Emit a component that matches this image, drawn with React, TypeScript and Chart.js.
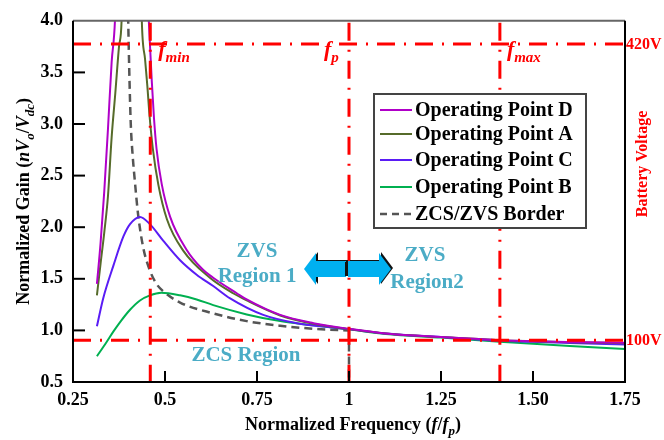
import React, { useEffect, useRef } from "react";
import { Chart, registerables } from "chart.js";
Chart.register(...registerables);

const W = 664;
const H = 440;
const FAMILY = '"Liberation Serif", "Times New Roman", serif';

// ---------- data ----------
const dFreq = [0.315, 0.325, 0.335, 0.345, 0.355, 0.364, 0.405, 0.456, 0.459, 0.464, 0.47, 0.477, 0.491, 0.514, 0.559, 0.6, 0.631, 0.695, 0.722, 0.813, 0.903, 1.0, 1.1, 1.25, 1.41, 1.5, 1.6, 1.75];
const dGain = [1.45, 1.85, 2.35, 2.95, 3.6, 4.0, 9, 4.0, 3.78, 3.42, 3.06, 2.76, 2.42, 2.1, 1.78, 1.6, 1.51, 1.36, 1.3, 1.15, 1.07, 1.015, 0.97, 0.935, 0.905, 0.895, 0.888, 0.88];

const aFreq = [0.315, 0.325, 0.335, 0.345, 0.355, 0.365, 0.375, 0.382, 0.41, 0.437, 0.446, 0.452, 0.458, 0.467, 0.482, 0.505, 0.55, 0.622, 0.685, 0.722, 0.813, 0.903, 1.0, 1.1, 1.25, 1.41, 1.5, 1.6, 1.75];
const aGain = [1.34, 1.65, 1.95, 2.3, 2.87, 3.3, 3.75, 4.0, 9, 4.0, 3.62, 3.37, 3.08, 2.76, 2.41, 2.08, 1.77, 1.51, 1.36, 1.29, 1.145, 1.065, 1.013, 0.97, 0.935, 0.905, 0.895, 0.886, 0.876];

const cFreq = [0.315, 0.332, 0.36, 0.387, 0.405, 0.432, 0.459, 0.495, 0.541, 0.586, 0.631, 0.677, 0.767, 0.858, 0.948, 1.0, 1.1, 1.25, 1.41, 1.5, 1.6, 1.75];
const cGain = [1.04, 1.31, 1.63, 1.91, 2.03, 2.1, 2.03, 1.87, 1.68, 1.54, 1.43, 1.31, 1.15, 1.07, 1.03, 1.01, 0.97, 0.935, 0.9, 0.89, 0.878, 0.864];

const bFreq = [0.315, 0.34, 0.36, 0.38, 0.405, 0.432, 0.459, 0.49, 0.541, 0.586, 0.631, 0.722, 0.813, 0.903, 1.0, 1.1, 1.25, 1.41, 1.5, 1.6, 1.75];
const bGain = [0.75, 0.88, 0.99, 1.09, 1.2, 1.29, 1.34, 1.365, 1.34, 1.3, 1.245, 1.155, 1.09, 1.05, 1.01, 0.965, 0.93, 0.89, 0.87, 0.85, 0.82];

const zFreq = [0.398, 0.4, 0.403, 0.407, 0.412, 0.418, 0.427, 0.441, 0.459, 0.477, 0.495, 0.541, 0.631, 0.722, 0.813, 0.903, 1.0];
const zGain = [4.3, 4.0, 3.5, 3.0, 2.7, 2.45, 2.12, 1.8, 1.58, 1.45, 1.38, 1.27, 1.165, 1.09, 1.045, 1.016, 1.0];
const zDropFreq = [1.0, 1.0];
const zDropGain = [1.0, 0.5];

const seriesNames = ["Operating Point D", "Operating Point A", "Operating Point C", "Operating Point B", "ZCS/ZVS Border"];
const seriesColors = ["#b000c8", "#566b2a", "#5a1cf5", "#00b050", "#555555"];

const xTickLabels = ["0.25", "0.5", "0.75", "1", "1.25", "1.50", "1.75"];
const freqMarkers = [0.46, 1.0, 1.41];
const freqMarkerSubs = ["min", "p", "max"];
const voltLevels = [3.775, 0.905];
const voltLabels = ["420V", "100V"];

const pts = (xs: number[], ys: number[]) => xs.map((x, i) => ({ x, y: ys[i] }));

type Seg = { t: string; it?: boolean; sub?: boolean };

function drawRich(ctx: CanvasRenderingContext2D, segs: Seg[], x: number, y: number, size: number, color: string, align: "center" | "left") {
  const font = (s: Seg) => `${s.it ? "italic " : ""}bold ${s.sub ? Math.round(size * 0.7) : size}px ${FAMILY}`;
  let total = 0;
  for (const s of segs) {
    ctx.font = font(s);
    total += ctx.measureText(s.t).width;
  }
  let cx = align === "center" ? x - total / 2 : x;
  ctx.fillStyle = color;
  ctx.textAlign = "left";
  ctx.textBaseline = "alphabetic";
  for (const s of segs) {
    ctx.font = font(s);
    ctx.fillText(s.t, cx, y + (s.sub ? size * 0.28 : 0));
    cx += ctx.measureText(s.t).width;
  }
}

const overlay = {
  id: "overlay",
  afterDatasetsDraw(chart: any) {
    const ctx: CanvasRenderingContext2D = chart.ctx;
    const { left, right, top, bottom } = chart.chartArea;
    const xs = chart.scales.x;
    const ys = chart.scales.y;
    ctx.save();

    // red dash-dot lines
    ctx.strokeStyle = "#ff0000";
    ctx.lineWidth = 3;
    ctx.setLineDash([18, 9, 2, 9]);
    for (const f of freqMarkers) {
      const px = xs.getPixelForValue(f);
      ctx.beginPath();
      ctx.moveTo(px, top + 2);
      ctx.lineTo(px, bottom);
      ctx.stroke();
    }
    for (const v of voltLevels) {
      const py = ys.getPixelForValue(v);
      ctx.beginPath();
      ctx.moveTo(left, py);
      ctx.lineTo(right, py);
      ctx.stroke();
    }
    ctx.setLineDash([]);

    // frame
    ctx.lineWidth = 2;
    ctx.strokeStyle = "#666666";
    ctx.beginPath();
    ctx.moveTo(left, top);
    ctx.lineTo(right, top);
    ctx.stroke();
    ctx.strokeStyle = "#000000";
    ctx.beginPath();
    ctx.moveTo(right, top);
    ctx.lineTo(right, bottom);
    ctx.lineTo(left, bottom);
    ctx.lineTo(left, top);
    ctx.stroke();

    // inner ticks
    ctx.lineWidth = 2;
    for (const t of ys.ticks) {
      if (t.value <= 0.5 || t.value >= 4) continue;
      const py = ys.getPixelForValue(t.value);
      ctx.beginPath();
      ctx.moveTo(left, py);
      ctx.lineTo(left + 12, py);
      ctx.stroke();
    }
    for (const t of xs.ticks) {
      if (t.value <= 0.25 || t.value >= 1.75) continue;
      const px = xs.getPixelForValue(t.value);
      ctx.beginPath();
      ctx.moveTo(px, bottom);
      ctx.lineTo(px, bottom - 11);
      ctx.stroke();
    }

    // legend
    const lx = 374, ly = 94, lw = 212, lh = 134;
    ctx.fillStyle = "#ffffff";
    ctx.fillRect(lx, ly, lw, lh);
    ctx.strokeStyle = "#444444";
    ctx.lineWidth = 2;
    ctx.strokeRect(lx, ly, lw, lh);
    const rowY = [110, 134, 160, 187, 214];
    seriesNames.forEach((name, i) => {
      ctx.strokeStyle = seriesColors[i];
      ctx.lineWidth = i === 4 ? 2.5 : 2;
      ctx.setLineDash(i === 4 ? [7, 5] : []);
      ctx.beginPath();
      ctx.moveTo(380, rowY[i]);
      ctx.lineTo(412, rowY[i]);
      ctx.stroke();
      ctx.setLineDash([]);
      ctx.fillStyle = "#000000";
      ctx.font = `bold 20px ${FAMILY}`;
      ctx.textAlign = "left";
      ctx.textBaseline = "middle";
      ctx.fillText(name, 415, rowY[i] + 1);
    });

    // f markers labels
    const fy = 56;
    const fpx = freqMarkers.map((f) => xs.getPixelForValue(f));
    drawRich(ctx, [{ t: "f", it: true }, { t: freqMarkerSubs[0], it: true, sub: true }], fpx[0] + 8, fy, 22, "#ff0000", "left");
    drawRich(ctx, [{ t: "f", it: true }, { t: freqMarkerSubs[1], it: true, sub: true }], fpx[1] - 25, fy, 22, "#ff0000", "left");
    drawRich(ctx, [{ t: "f", it: true }, { t: freqMarkerSubs[2], it: true, sub: true }], fpx[2] + 7, fy, 22, "#ff0000", "left");

    // region annotations
    const teal = "#4bacc6";
    ctx.fillStyle = teal;
    ctx.font = `bold 21px ${FAMILY}`;
    ctx.textAlign = "center";
    ctx.textBaseline = "middle";
    ctx.fillText("ZVS", 257, 252);
    ctx.fillText("Region 1", 257, 277);
    ctx.fillText("ZVS", 425, 256);
    ctx.fillText("Region2", 427, 283);
    ctx.fillText("ZCS Region", 246, 356);

    // arrows
    const drawArrow = (pts2: number[][], fill: string) => {
      ctx.beginPath();
      ctx.moveTo(pts2[0][0], pts2[0][1]);
      for (let i = 1; i < pts2.length; i++) ctx.lineTo(pts2[i][0], pts2[i][1]);
      ctx.closePath();
      ctx.fillStyle = fill;
      ctx.fill();
    };
    const leftArrow = [[304, 269], [316, 253], [316, 261], [346, 261], [346, 277], [316, 277], [316, 285]];
    const rightArrow = [[391, 269], [379, 253], [379, 261], [348, 261], [348, 277], [379, 277], [379, 285]];
    drawArrow(leftArrow.map(([a, b]) => [a + 2, b - 1]), "#111111");
    drawArrow(rightArrow.map(([a, b]) => [a + 2, b - 1]), "#111111");
    drawArrow(leftArrow, "#00b0f0");
    drawArrow(rightArrow, "#00b0f0");
    ctx.fillStyle = "#111111";
    ctx.fillRect(345, 262, 2, 14);

    // right side voltage labels
    ctx.fillStyle = "#ff0000";
    ctx.font = `bold 16px ${FAMILY}`;
    ctx.textAlign = "left";
    ctx.textBaseline = "middle";
    voltLevels.forEach((v, i) => {
      ctx.fillText(voltLabels[i], right + 1, ys.getPixelForValue(v) + 1);
    });
    ctx.save();
    ctx.translate(643, 164);
    ctx.rotate(-Math.PI / 2);
    ctx.textAlign = "center";
    ctx.fillText("Battery Voltage", 0, 0);
    ctx.restore();

    // axis titles
    ctx.save();
    ctx.translate(29, (top + bottom) / 2);
    ctx.rotate(-Math.PI / 2);
    drawRich(
      ctx,
      [
        { t: "Normalized Gain (" },
        { t: "n", it: true },
        { t: "V", it: true },
        { t: "o", it: true, sub: true },
        { t: "/" },
        { t: "V", it: true },
        { t: "dc", it: true, sub: true },
        { t: ")" },
      ],
      0,
      0,
      18,
      "#000000",
      "center"
    );
    ctx.restore();
    drawRich(
      ctx,
      [
        { t: "Normalized Frequency (" },
        { t: "f", it: true },
        { t: "/" },
        { t: "f", it: true },
        { t: "p", it: true, sub: true },
        { t: ")" },
      ],
      (left + right) / 2 + 4,
      430,
      18,
      "#000000",
      "center"
    );
    ctx.restore();
  },
};

export default function App() {
  const ref = useRef<HTMLCanvasElement>(null);
  useEffect(() => {
    document.body.style.margin = "0";
    const base = { pointRadius: 0, borderWidth: 2, fill: false, cubicInterpolationMode: "monotone" as const };
    const chart = new Chart(ref.current!, {
      type: "line",
      data: {
        datasets: [
          { ...base, label: seriesNames[0], data: pts(dFreq, dGain), borderColor: seriesColors[0] },
          { ...base, label: seriesNames[1], data: pts(aFreq, aGain), borderColor: seriesColors[1] },
          { ...base, label: seriesNames[2], data: pts(cFreq, cGain), borderColor: seriesColors[2] },
          { ...base, label: seriesNames[3], data: pts(bFreq, bGain), borderColor: seriesColors[3] },
          { ...base, label: seriesNames[4], data: pts(zFreq, zGain), borderColor: seriesColors[4], borderDash: [8, 5], borderWidth: 2.5 },
          { ...base, label: "", data: pts(zDropFreq, zDropGain), borderColor: seriesColors[4], borderDash: [8, 5], borderWidth: 2.5, cubicInterpolationMode: "default" as const, tension: 0 },
        ],
      },
      options: {
        animation: false,
        responsive: false,
        devicePixelRatio: 1,
        layout: { padding: { top: 14, right: 39, left: 0, bottom: 0 } },
        plugins: { legend: { display: false }, tooltip: { enabled: false } },
        scales: {
          x: {
            type: "linear",
            min: 0.25,
            max: 1.75,
            afterFit: (s: any) => {
              s.height = 58;
            },
            grid: { display: false, drawTicks: false },
            border: { display: false },
            ticks: {
              stepSize: 0.25,
              autoSkip: false,
              maxRotation: 0,
              padding: 8,
              color: "#000",
              font: { family: FAMILY, weight: "bold", size: 18 },
              callback: (_v: any, i: number) => xTickLabels[i] ?? "",
            },
          },
          y: {
            type: "linear",
            min: 0.5,
            max: 4,
            afterFit: (s: any) => {
              s.width = 73;
            },
            grid: { display: false, drawTicks: false },
            border: { display: false },
            ticks: {
              stepSize: 0.5,
              padding: 10,
              color: "#000",
              font: { family: FAMILY, weight: "bold", size: 18 },
              callback: (v: any) => Number(v).toFixed(1),
            },
          },
        },
      },
      plugins: [overlay],
    } as any);
    return () => chart.destroy();
  }, []);
  return (
    <div style={{ position: "relative", width: W, height: H, background: "#ffffff" }}>
      <canvas ref={ref} width={W} height={H} style={{ display: "block", width: W, height: H }} />
    </div>
  );
}
